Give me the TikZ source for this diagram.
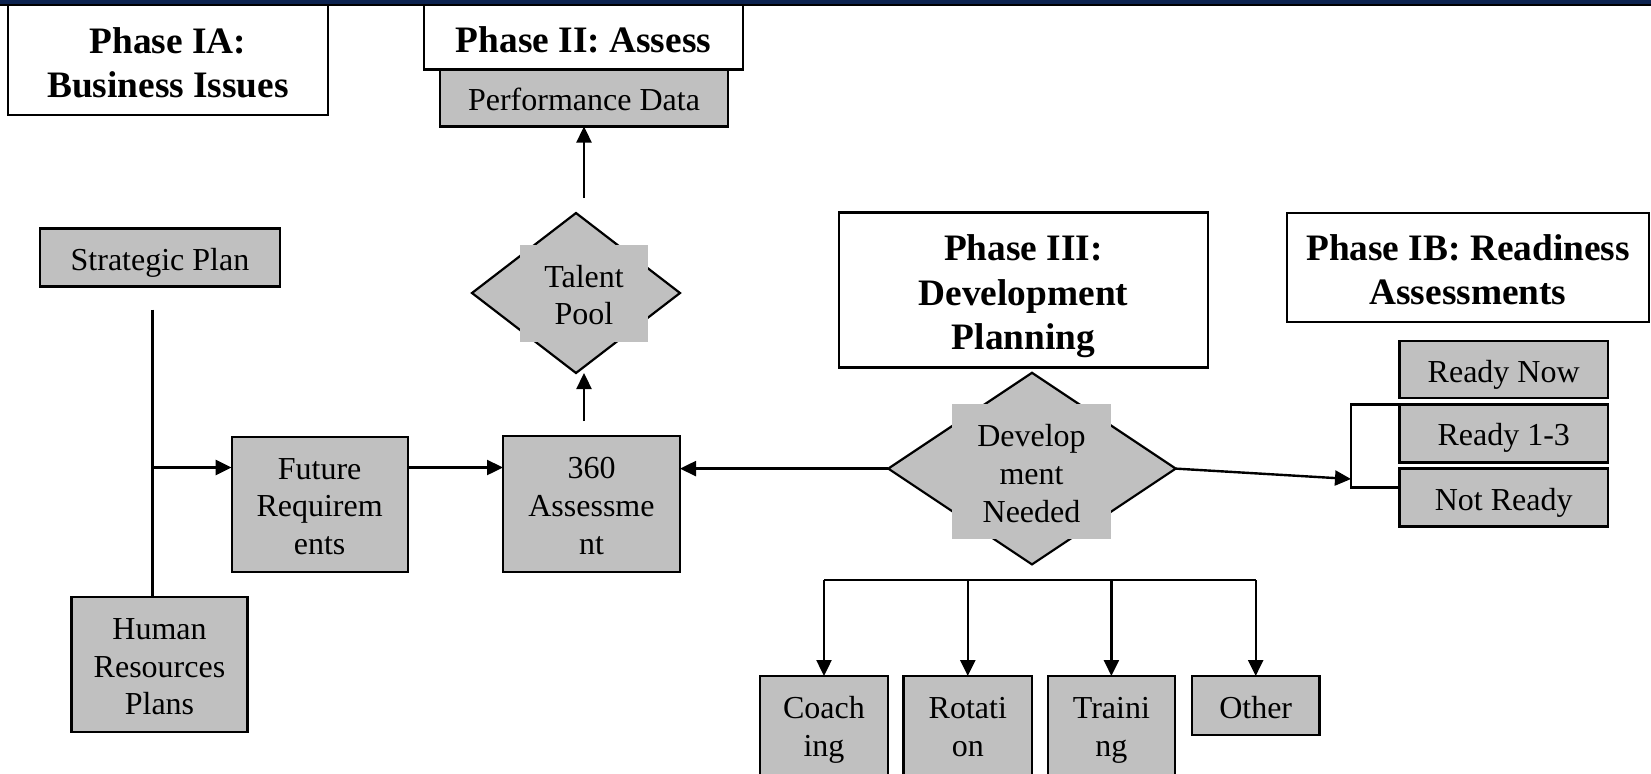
\documentclass[tikz,border=0pt]{standalone}
\usepackage{fontspec}
\setmainfont{Liberation Serif}
\usetikzlibrary{arrows.meta,shapes.geometric}
\definecolor{boxgray}{HTML}{C0C0C0}
\definecolor{navybar}{HTML}{0C2350}
% fixed first-line height and last-line depth, so that every box centres its text alike
\newcommand\Tr{\rule{0pt}{16.5pt}}
\newcommand\Br{\rule[-4pt]{0pt}{4pt}}
\newcommand\Tb{\rule{0pt}{19.5pt}}
\newcommand\Bb{\rule[-4.3pt]{0pt}{4.3pt}}

\begin{document}
\begin{tikzpicture}[x=0.5pt,y=-0.5pt,
  every node/.style={inner sep=0pt, outer sep=0pt},
  sz/.style 2 args={minimum width=#1*0.5pt, minimum height=#2*0.5pt},
  bodyfont/.style={font=\fontsize{16}{18.9}\selectfont},
  grey/.style={draw, fill=boxgray, line width=1.1pt, align=center, bodyfont},
  phase/.style={draw, fill=white, line width=1.1pt, align=center,
    font=\fontsize{18.67}{22.2}\selectfont\bfseries},
  dia/.style={draw, fill=boxgray, diamond, line width=1.1pt},
  patch/.style={fill=boxgray, align=center, bodyfont},
  ln/.style={line width=1.2pt},
  arr/.style={line width=1.2pt, -{Triangle[length=8pt,width=7.5pt]}}]

\useasboundingbox (0,0) rectangle (1651,773);
\clip (0,0) rectangle (1651,773);

% phase headings
\node[phase, sz={320}{110}] (p1a) at (168,60) {\Tb Phase IA:\\Business Issues\Bb};
\node[phase, sz={319}{64.5}] (p2) at (583.5,37.2) {\Tb Phase II: Assess\Bb};
\node[phase, sz={369}{155}] (p3) at (1023.5,290) {\Tb Phase III:\\Development\\Planning\Bb};
\node[phase, sz={362}{109.5}] (p1b) at (1468,267.5) {\Tb Phase IB: Readiness\\Assessments\Bb};

% process boxes
\node[grey, sz={288}{57}] (perf) at (584,98) {\Tr Performance Data\Br};
\node[grey, sz={240}{58}] (strat) at (160,257.5) {\Tr Strategic Plan\Br};
\node[grey, sz={176}{135}] (fut) at (319.6,504.4) {\Tr Future\\Requirem\\ents\Br};
\node[grey, sz={177}{136}] (a360) at (591.5,504) {\Tr 360\\Assessme\\nt\Br};
\node[grey, sz={176}{135}] (hr) at (159.5,664.5) {\Tr Human\\Resources\\Plans\Br};

% decisions
\node[dia, sz={208}{160}] (tdia) at (576,293) {};
\node[patch, sz={128}{97}] (tpool) at (584,293.5) {\Tr Talent\\Pool\Br};
\node[dia, sz={287.4}{191.6}] (ddia) at (1032,468.6) {};
\node[patch, sz={159}{134.6}] (dneed) at (1031.5,471.7) {\Tr Develop\\ment\\Needed\Br};

% readiness levels
\node[grey, sz={208.6}{57}] (rnow) at (1503.7,369.5) {\Tr Ready Now\Br};
\node[grey, sz={208.6}{58}] (r13) at (1503.7,433.4) {\Tr Ready 1-3\Br};
\node[grey, sz={208.6}{58}] (rnot) at (1503.7,497.5) {\Tr Not Ready\Br};

% development options (top-aligned text in three-line boxes)
\node[grey, sz={127.4}{135}] (coach) at (824,743.5) {\Tr Coach\\ing\\\Br};
\node[grey, sz={128.5}{135}] (rot) at (967.8,743.5) {\Tr Rotati\\on\\\Br};
\node[grey, sz={127.3}{135}] (train) at (1111.4,743.5) {\Tr Traini\\ng\\\Br};
\node[grey, sz={127.4}{59}] (other) at (1255.7,705.5) {\Tr Other\Br};

% connectors
\coordinate (row) at (0,467.5);
\coordinate (spTop) at (152.5,309.6);
\draw[ln] (spTop) -- (spTop |- hr.north);
\draw[arr] (spTop |- row) -- (fut.west |- row);
\draw[arr] (fut.east |- row) -- (a360.west |- row);
\draw[arr] (ddia.west) -- (a360.east |- ddia.west);

\coordinate (upA) at (584,421);
\draw[arr] (upA) -- (upA |- tdia.south);
\coordinate (upB) at (584,198);
\draw[arr] (upB) -- (perf.south);

\coordinate (brk) at (1351,479);
\coordinate (brkB) at (1351,487.5);
\draw[arr] (ddia.east) -- (brk);
\draw[ln] (r13.north west) -- (r13.north west -| brkB) -- (brkB) -- (brkB -| rnot.west);

\coordinate (bus) at (0,580.2);
\draw[ln] (coach.north |- bus) -- (other.north |- bus);
\foreach \n in {coach,rot,train,other}
  \draw[arr] (\n.north |- bus) -- (\n.north);

% top rule
\fill[navybar] (0,0) rectangle (1651,3.5);
\fill[black] (0,3.5) rectangle (1651,6);
\end{tikzpicture}
\end{document}
